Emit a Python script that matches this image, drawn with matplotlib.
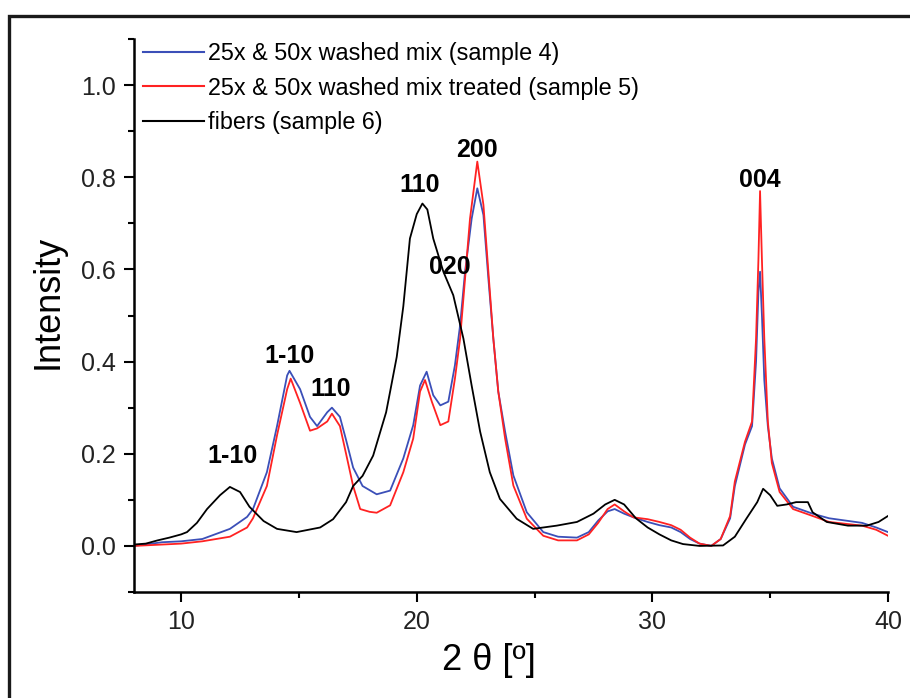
import matplotlib
matplotlib.use("Agg")
import matplotlib.pyplot as plt
from matplotlib.ticker import MultipleLocator
from matplotlib.patches import Rectangle

plt.rcParams['font.family'] = ['Liberation Sans', 'DejaVu Sans']

# ---------------- data ----------------
labels = ["25x & 50x washed mix (sample 4)",
          "25x & 50x washed mix treated (sample 5)",
          "fibers (sample 6)"]

x_s4 = [8.0, 9.2, 10.0, 10.9, 12.07, 12.8, 13.05, 13.64, 14.07, 14.5, 14.6, 15.05,
        15.47, 15.77, 16.2, 16.4, 16.74, 17.0, 17.3, 17.7, 18.3, 18.87, 19.43, 19.85,
        20.14, 20.42, 20.7, 21.0, 21.34, 21.62, 21.84, 22.05, 22.33, 22.57, 22.83,
        23.04, 23.25, 23.46, 23.75, 24.1, 24.67, 25.37, 26.0, 26.8, 27.3, 27.7, 28.1,
        28.4, 28.8, 29.2, 29.8, 30.3, 30.8, 31.2, 31.6, 32.0, 32.5, 32.9, 33.3, 33.5,
        33.93, 34.23, 34.4, 34.5, 34.57, 34.65, 34.75, 34.9, 35.07, 35.4, 35.97, 36.8,
        37.5, 38.9, 39.5, 40.0]
y_s4 = [0.0, 0.008, 0.01, 0.015, 0.037, 0.063, 0.08, 0.16, 0.26, 0.37, 0.38, 0.34,
        0.28, 0.26, 0.29, 0.30, 0.28, 0.23, 0.17, 0.13, 0.112, 0.12, 0.19, 0.262,
        0.348, 0.378, 0.327, 0.305, 0.313, 0.392, 0.479, 0.595, 0.71, 0.776, 0.718,
        0.58, 0.45, 0.335, 0.248, 0.153, 0.073, 0.03, 0.02, 0.018, 0.03, 0.055, 0.075,
        0.08, 0.07, 0.062, 0.052, 0.045, 0.04, 0.03, 0.015, 0.005, 0.0, 0.015, 0.06, 0.13,
        0.22, 0.26, 0.40, 0.55, 0.595, 0.50, 0.36, 0.26, 0.19, 0.125, 0.085, 0.07,
        0.06, 0.05, 0.04, 0.03]

x_s5 = [8.0, 9.2, 10.0, 10.9, 12.07, 12.8, 13.05, 13.64, 14.07, 14.5, 14.65, 15.05,
        15.47, 15.77, 16.2, 16.4, 16.74, 17.0, 17.3, 17.6, 18.0, 18.3, 18.87, 19.43,
        19.85, 20.14, 20.35, 20.64, 21.0, 21.34, 21.62, 21.84, 22.05, 22.26, 22.57,
        22.83, 23.04, 23.25, 23.46, 23.75, 24.1, 24.67, 25.37, 26.0, 26.8, 27.3, 27.7,
        28.1, 28.4, 28.8, 29.2, 29.8, 30.3, 30.8, 31.2, 31.6, 32.0, 32.5, 32.9, 33.3,
        33.5, 33.93, 34.23, 34.4, 34.5, 34.57, 34.65, 34.75, 34.9, 35.07, 35.4, 35.97,
        36.8, 37.5, 38.9, 39.5, 40.0]
y_s5 = [0.0, 0.003, 0.005, 0.01, 0.02, 0.04, 0.06, 0.13, 0.24, 0.34, 0.363, 0.31,
        0.25, 0.255, 0.27, 0.287, 0.26, 0.20, 0.13, 0.08, 0.074, 0.072, 0.088, 0.16,
        0.233, 0.335, 0.36, 0.313, 0.262, 0.27, 0.363, 0.45, 0.58, 0.71, 0.834,
        0.74, 0.595, 0.45, 0.335, 0.233, 0.131, 0.059, 0.022, 0.012, 0.012, 0.025, 0.05,
        0.08, 0.09, 0.075, 0.062, 0.058, 0.052, 0.045, 0.035, 0.018, 0.005, 0.0, 0.015, 0.065,
        0.14, 0.226, 0.27, 0.45, 0.62, 0.77, 0.62, 0.45, 0.27, 0.18, 0.117, 0.08,
        0.065, 0.052, 0.044, 0.035, 0.022]

x_s6 = [8.0, 8.5, 9.0, 9.5, 10.0, 10.25, 10.67, 11.1, 11.65, 12.07, 12.5, 12.9, 13.5,
        14.07, 14.9, 15.9, 16.45, 17.0, 17.3, 17.7, 18.15, 18.7, 18.87, 19.15, 19.43,
        19.71, 20.0, 20.24, 20.45, 20.7, 21.13, 21.55, 21.98, 22.33, 22.69, 23.1, 23.53,
        24.24, 24.94, 25.94, 26.8, 27.5, 28.0, 28.4, 28.8, 29.3, 29.8, 30.3, 30.8, 31.3,
        32.0, 33.0, 33.5, 34.0, 34.45, 34.7, 35.0, 35.3, 35.7, 36.1, 36.6, 36.8, 37.4,
        38.3, 39.1, 39.6, 40.0]
y_s6 = [0.003, 0.005, 0.012, 0.018, 0.025, 0.03, 0.05, 0.08, 0.11, 0.128, 0.117, 0.085,
        0.054, 0.037, 0.03, 0.04, 0.058, 0.095, 0.13, 0.152, 0.196, 0.29, 0.335, 0.41, 0.52,
        0.667, 0.72, 0.743, 0.73, 0.667, 0.595, 0.544, 0.45, 0.348, 0.248, 0.16, 0.102,
        0.059, 0.037, 0.044, 0.052, 0.07, 0.09, 0.10, 0.09, 0.06, 0.04, 0.025, 0.012, 0.004,
        0.0, 0.001, 0.02, 0.06, 0.095, 0.124, 0.11, 0.087, 0.09, 0.095, 0.095, 0.073, 0.052,
        0.044, 0.044, 0.052, 0.065]

peak_labels = ["1-10", "1-10", "110", "110", "020", "200", "004"]
peak_x = [12.19, 14.59, 16.35, 20.14, 21.41, 22.57, 34.57]
peak_y = [0.195, 0.413, 0.341, 0.783, 0.606, 0.859, 0.794]

colors = ["#3b4fb8", "#ff2222", "#000000"]

# ---------------- figure ----------------
fig = plt.figure(figsize=(9.10, 6.98), dpi=100)
ax = fig.add_axes([134 / 910, 106 / 698, 754 / 910, 553 / 698])

ax.plot(x_s4, y_s4, color=colors[0], lw=1.3, label=labels[0])
ax.plot(x_s5, y_s5, color=colors[1], lw=1.3, label=labels[1])
ax.plot(x_s6, y_s6, color=colors[2], lw=1.3, label=labels[2])

for t, px, py in zip(peak_labels, peak_x, peak_y):
    ax.text(px, py, t, fontsize=18, fontweight='bold', ha='center', va='center',
            color='black')

ax.set_xlim(8, 40)
ax.set_ylim(-0.1, 1.1)
ax.xaxis.set_major_locator(MultipleLocator(10))
ax.xaxis.set_minor_locator(MultipleLocator(5))
ax.yaxis.set_major_locator(MultipleLocator(0.2))
ax.yaxis.set_minor_locator(MultipleLocator(0.1))
ax.set_yticks([0.0, 0.2, 0.4, 0.6, 0.8, 1.0])
ax.set_yticklabels(["0.0", "0.2", "0.4", "0.6", "0.8", "1.0"])

for s in ['top', 'right']:
    ax.spines[s].set_visible(False)
for s in ['left', 'bottom']:
    ax.spines[s].set_linewidth(1.8)

ax.tick_params(axis='both', which='major', direction='out', length=7, width=1.5,
               labelsize=18, pad=6, color='black', labelcolor='#222222')
ax.tick_params(axis='both', which='minor', direction='out', length=4, width=1.5)

ax.set_xlabel("2 θ [º]", fontsize=26)
ax.set_ylabel("Intensity", fontsize=26)
ax.xaxis.set_label_coords(0.471, -0.123)
ax.xaxis.label.set_va('center')
ax.yaxis.set_label_coords(-0.114, 0.524)
ax.yaxis.label.set_va('center')

leg = ax.legend(loc='upper left', bbox_to_anchor=(0.012, 0.994), frameon=False,
                fontsize=16.8, handlelength=2.6, handletextpad=0.2,
                labelspacing=0.48, borderpad=0, borderaxespad=0)
for line in leg.get_lines():
    line.set_linewidth(1.5)

# outer frame of the picture
fig.patches.append(Rectangle((8.5 / 910, -0.2), 1.5, (698 - 15.5) / 698 + 0.2,
                             transform=fig.transFigure, fill=False,
                             edgecolor='#1a1a1a', linewidth=2.4, clip_on=False))

fig.savefig("out.png", dpi=100)
